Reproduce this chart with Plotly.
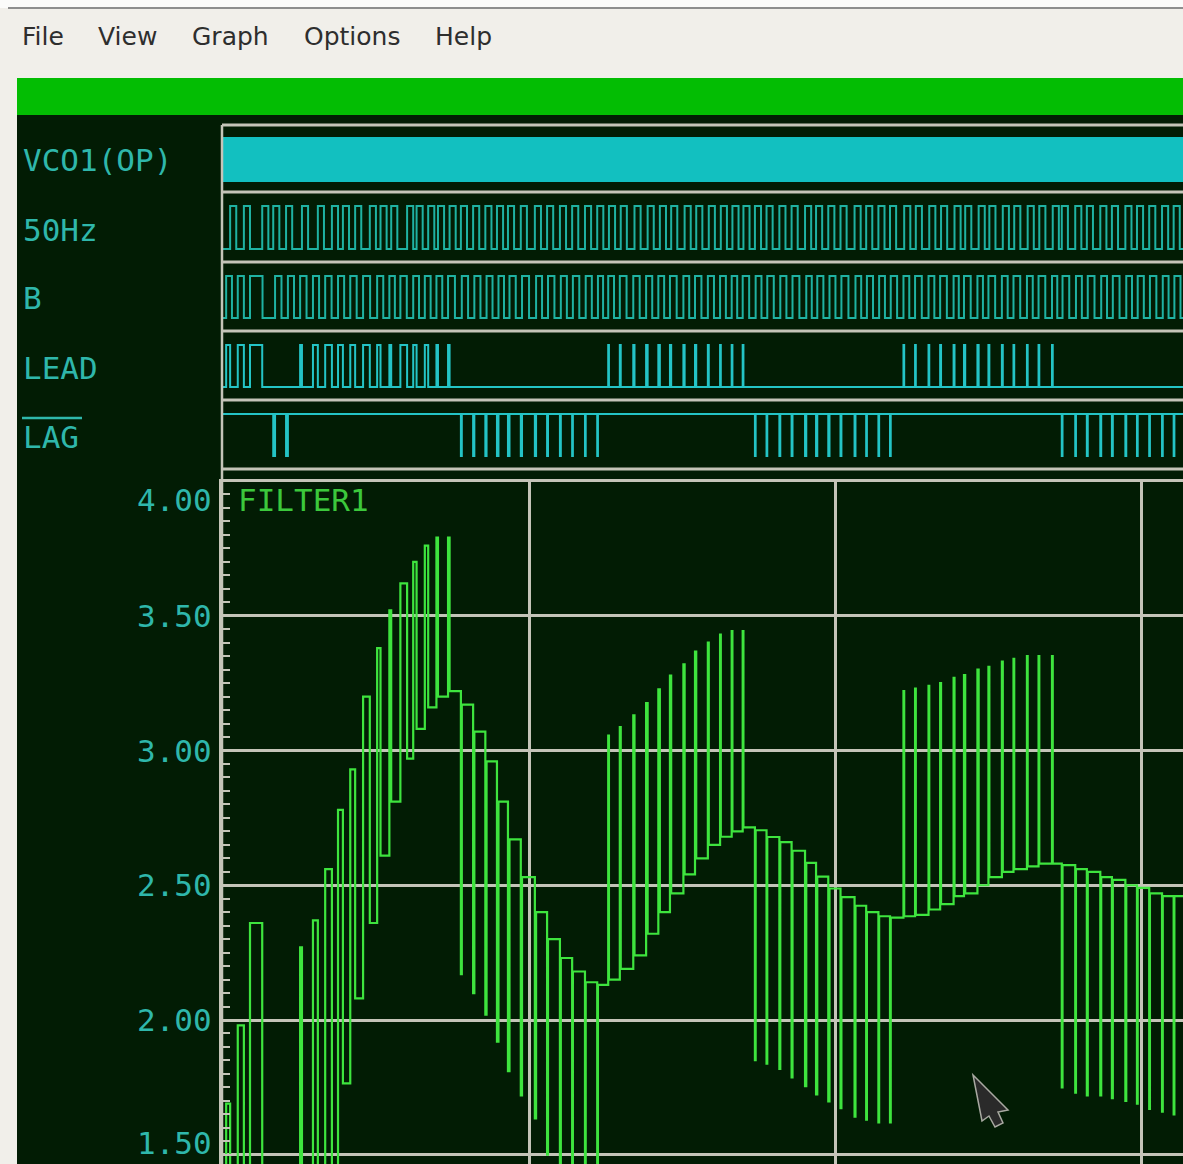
import plotly.graph_objects as go

# ---------------------------------------------------------------- data
MENU_ITEMS = ["File", "View", "Graph", "Options", "Help"]
LANE_LABELS = ["VCO1(OP)", "50Hz", "B", "LEAD", "LAG"]
ANALOG_LABEL = "FILTER1"
Y_TICKS = [4.0, 3.5, 3.0, 2.5, 2.0, 1.5]
Y_TICK_TEXT = ["4.00", "3.50", "3.00", "2.50", "2.00", "1.50"]

# simulated window (ms)
WINDOW_MS = [-4, 1570]
REF_HALF_PERIOD_MS = 10          # 50 Hz reference -> 10 ms high / 10 ms low
FILTER_START_V = 1.20            # loop filter output before the first pulse

# phase-detector pulses: start time, width, side (+1 LEAD / -1 LAG)
EVENT_MS = [
    3, 22, 42, 80, 101,
    124, 145, 165, 186, 206, 227, 250, 270, 288, 309, 328, 347, 366,
    387, 407, 427, 446, 464, 485, 508, 528, 549, 569, 590, 610,
    628, 647, 669, 690, 710, 729, 751, 770, 791, 811, 830, 848,
    868, 887, 908, 928, 950, 968, 988, 1008, 1031, 1050, 1070, 1089,
    1111, 1130, 1152, 1171, 1193, 1210, 1232, 1250, 1272, 1291, 1313, 1332, 1354,
    1370, 1392, 1411, 1433, 1452, 1474, 1493, 1513, 1534, 1553,
]
EVENT_WIDTH_MS = [
    6.5, 10, 20, 3, 3,
    3, 8, 11, 8, 8, 11, 5.5, 3, 11, 5.5, 5.5, 2.5, 2.5,
    1.5, 2, 2, 2.5, 2.5, 2, 2, 1.5, 1.5, 1.2, 1.2, 1.2,
    1.2, 1.5, 2, 2.5, 2.5, 2, 2, 2, 1.5, 1.2, 1.2, 1.2,
    1.2, 1.2, 1.5, 1.5, 2, 2, 2, 1.5, 1.5, 1.2, 1.2, 1.2,
    1.2, 1.2, 1.2, 1.5, 1.5, 2, 2, 1.5, 1.5, 1.2, 1.2, 1.2, 1.2,
    1.2, 1.2, 1.5, 1.5, 1.5, 1.5, 1.2, 1.2, 1.2, 1.2,
]
EVENT_SIDE = [
    1, 1, 1, -1, -1,
    1, 1, 1, 1, 1, 1, 1, 1, 1, 1, 1, 1, 1,
    -1, -1, -1, -1, -1, -1, -1, -1, -1, -1, -1, -1,
    1, 1, 1, 1, 1, 1, 1, 1, 1, 1, 1, 1,
    -1, -1, -1, -1, -1, -1, -1, -1, -1, -1, -1, -1,
    1, 1, 1, 1, 1, 1, 1, 1, 1, 1, 1, 1, 1,
    -1, -1, -1, -1, -1, -1, -1, -1, -1, -1,
]
# FILTER1 value while each pulse is active, and the value held afterwards
FILTER_PEAK_V = [
    1.69, 1.98, 2.36, 0.80, 0.78,
    2.27, 2.37, 2.56, 2.78, 2.93, 3.20, 3.38, 3.52, 3.62, 3.70, 3.76, 3.79, 3.79,
    2.17, 2.10, 2.02, 1.92, 1.81, 1.72, 1.635, 1.50, 1.40, 1.33, 1.28, 1.24,
    3.055, 3.087, 3.13, 3.176, 3.227, 3.278, 3.32, 3.367, 3.40, 3.43, 3.443, 3.443,
    1.851, 1.838, 1.819, 1.787, 1.755, 1.724, 1.698, 1.673, 1.641, 1.63, 1.62, 1.62,
    3.22, 3.23, 3.24, 3.25, 3.27, 3.28, 3.30, 3.31, 3.33, 3.34, 3.35, 3.35, 3.35,
    1.75, 1.73, 1.72, 1.72, 1.71, 1.70, 1.69, 1.67, 1.66, 1.65,
]
FILTER_HOLD_V = [
    1.25, 1.30, 1.34, 1.31, 1.28,
    1.30, 1.36, 1.42, 1.765, 2.08, 2.36, 2.61, 2.81, 2.97, 3.08, 3.16, 3.20, 3.22,
    3.17, 3.07, 2.96, 2.81, 2.67, 2.53, 2.40, 2.30, 2.23, 2.18, 2.14, 2.13,
    2.15, 2.19, 2.24, 2.32, 2.40, 2.47, 2.54, 2.60, 2.65, 2.68, 2.70, 2.715,
    2.704, 2.679, 2.66, 2.628, 2.583, 2.532, 2.488, 2.456, 2.424, 2.40, 2.385, 2.38,
    2.385, 2.39, 2.41, 2.43, 2.46, 2.47, 2.50, 2.53, 2.55, 2.56, 2.57, 2.58, 2.58,
    2.575, 2.56, 2.55, 2.53, 2.52, 2.50, 2.49, 2.47, 2.46, 2.46,
]

# ---------------------------------------------------------------- layout constants
FIG_W, FIG_H = 1183, 1164
PLOT_LEFT_PX = 222
X_RANGE = [-3.8, 1568.3]
Y_RANGE = [1.4657, 4.0074]
ANALOG_TOP_PX = 479
LANE_EDGES_PX = [125, 192, 262, 331, 400, 469]
LANE_PAD_PX = [(12, 10), (14, 13), (14, 13), (14, 13), (14, 13)]
MENU_X_PX = [20, 96, 190, 302, 433]
LABEL_Y_PX = [160, 230, 298, 368, 437]

BG_DARK = "#021c04"
BG_LIGHT = "#f1efea"
FRAME = "#c4c4b8"
TEAL = "#2fb7ab"
CYAN = "#24c4c6"
CLOCK = "#1fb2a2"
GREEN = "#3ee43e"
MONO = "DejaVu Sans Mono"


def px_x(p):
    return p / FIG_W


def px_y(p):
    return 1 - p / FIG_H


def lane_range(top, bot, pad_top, pad_bot):
    h = bot - top
    span = h / (h - pad_top - pad_bot)
    hi = 1 + pad_top / (h - pad_top - pad_bot)
    return [hi - span, hi]


def pulse_points(intervals, idle, active):
    xs, ys = [WINDOW_MS[0]], [idle]
    for s, e in intervals:
        xs += [s, s, e, e]
        ys += [idle, active, active, idle]
    xs.append(WINDOW_MS[1])
    ys.append(idle)
    return xs, ys


# ---------------------------------------------------------------- derived signals
# LEAD: B edge comes first, pulse ends on the reference edge; LAG the reverse.
ref_rise, b_rise, lead_iv, lag_iv = [], [], [], []
for t, w, side in zip(EVENT_MS, EVENT_WIDTH_MS, EVENT_SIDE):
    if side > 0:
        lead_iv.append((t, t + w))
        b_rise.append(t)
        ref_rise.append(t + w)
    else:
        lag_iv.append((t, t + w))
        ref_rise.append(t)
        b_rise.append(t + w)

ref_iv = [(r, r + REF_HALF_PERIOD_MS) for r in ref_rise]
b_iv = []
for i, r in enumerate(b_rise):
    nxt = b_rise[i + 1] if i + 1 < len(b_rise) else r + 2 * REF_HALF_PERIOD_MS
    b_iv.append((r, r + (nxt - r) / 2))

fx, fy = [WINDOW_MS[0]], [FILTER_START_V]
prev = FILTER_START_V
for t, w, pk, hold in zip(EVENT_MS, EVENT_WIDTH_MS, FILTER_PEAK_V, FILTER_HOLD_V):
    fx += [t, t, t + w, t + w]
    fy += [prev, pk, pk, hold]
    prev = hold
fx.append(WINDOW_MS[1])
fy.append(prev)

# ---------------------------------------------------------------- figure
fig = go.Figure()

fig.add_trace(go.Scatter(x=WINDOW_MS, y=[1, 1], xaxis="x2", yaxis="y2", mode="lines",
                         line=dict(width=0, color=CYAN), fill="tozeroy",
                         fillcolor="#12c0c0", hoverinfo="skip"))
for iv, ax, idle, act, col in [(ref_iv, "y3", 0, 1, CLOCK), (b_iv, "y4", 0, 1, CLOCK),
                               (lead_iv, "y5", 0, 1, CYAN), (lag_iv, "y6", 1, 0, CYAN)]:
    xs, ys = pulse_points(iv, idle, act)
    fig.add_trace(go.Scatter(x=xs, y=ys, xaxis="x2", yaxis=ax, mode="lines",
                             line=dict(width=2, color=col), hoverinfo="skip"))

fig.add_trace(go.Scatter(x=fx, y=fy, xaxis="x", yaxis="y", mode="lines",
                         line=dict(width=2.2, color=GREEN), hoverinfo="skip"))

layout = dict(
    width=FIG_W, height=FIG_H, margin=dict(l=0, r=0, t=0, b=0),
    paper_bgcolor=BG_LIGHT, plot_bgcolor=BG_DARK, showlegend=False,
    xaxis=dict(domain=[px_x(PLOT_LEFT_PX), 1], range=X_RANGE, anchor="y",
               tickmode="array", tickvals=[500, 1000, 1500], showticklabels=False,
               ticks="", showgrid=True, gridcolor=FRAME, gridwidth=2.5,
               zeroline=False, showline=False, fixedrange=True),
    xaxis2=dict(domain=[px_x(PLOT_LEFT_PX), 1], range=X_RANGE, anchor="y2",
                visible=False, fixedrange=True),
    yaxis=dict(domain=[0, px_y(ANALOG_TOP_PX)], range=Y_RANGE, anchor="x",
               tick0=1.5, dtick=0.5, showticklabels=False, ticks="inside",
               ticklen=10, tickwidth=2, tickcolor=FRAME,
               showgrid=True, gridcolor=FRAME, gridwidth=2.5, zeroline=False,
               showline=True, linecolor=FRAME, linewidth=2.5,
               minor=dict(dtick=0.05, tick0=1.5, ticks="inside", ticklen=8,
                          tickwidth=2, tickcolor=FRAME, showgrid=False),
               fixedrange=True),
)
for i in range(5):
    top, bot = LANE_EDGES_PX[i], LANE_EDGES_PX[i + 1]
    pt, pb = LANE_PAD_PX[i]
    layout["yaxis%d" % (i + 2)] = dict(domain=[px_y(bot), px_y(top)],
                                        range=lane_range(top, bot, pt, pb),
                                        anchor="x2", visible=False, fixedrange=True)
fig.update_layout(**layout)

shapes = []
# window chrome
shapes.append(dict(type="rect", xref="paper", yref="paper", x0=0, x1=1,
                   y0=px_y(8), y1=1, fillcolor="#fbfbfa", line_width=0, layer="below"))
shapes.append(dict(type="line", xref="paper", yref="paper", x0=px_x(8), x1=1,
                   y0=px_y(8), y1=px_y(8), line=dict(color="#8e8e8e", width=2)))
shapes.append(dict(type="rect", xref="paper", yref="paper", x0=px_x(17), x1=1,
                   y0=px_y(115), y1=px_y(78), fillcolor="#03bd03", line_width=0,
                   layer="below"))
shapes.append(dict(type="rect", xref="paper", yref="paper", x0=px_x(17), x1=1,
                   y0=0, y1=px_y(115), fillcolor=BG_DARK, line_width=0, layer="below"))
# lane separators and left frame
for yp in LANE_EDGES_PX:
    shapes.append(dict(type="line", xref="paper", yref="paper",
                       x0=px_x(PLOT_LEFT_PX), x1=1, y0=px_y(yp), y1=px_y(yp),
                       line=dict(color=FRAME, width=3)))
shapes.append(dict(type="line", xref="paper", yref="paper",
                   x0=px_x(PLOT_LEFT_PX), x1=px_x(PLOT_LEFT_PX),
                   y0=0, y1=px_y(LANE_EDGES_PX[0]),
                   line=dict(color=FRAME, width=2.5)))
# active-low bar over LAG
shapes.append(dict(type="line", xref="paper", yref="paper", x0=px_x(22), x1=px_x(82),
                   y0=px_y(418), y1=px_y(418), line=dict(color=TEAL, width=2.5)))
# mouse pointer
ptr = [(973, 1075), (1008, 1110), (998, 1112), (1003, 1123), (995, 1127),
       (989, 1116), (982, 1121)]
path = "M " + " L ".join("%.5f %.5f" % (px_x(a), px_y(b)) for a, b in ptr) + " Z"
shapes.append(dict(type="path", xref="paper", yref="paper", path=path,
                   fillcolor="#2a2a2a", line=dict(color="#a9a9a2", width=1.5)))
fig.update_layout(shapes=shapes)

ann = []
for name, xp in zip(MENU_ITEMS, MENU_X_PX):
    ann.append(dict(text=name, xref="paper", yref="paper", x=px_x(xp), y=px_y(36),
                    xanchor="left", yanchor="middle", showarrow=False,
                    font=dict(family="DejaVu Sans", size=25, color="#2e2e2e")))
for name, yp in zip(LANE_LABELS, LABEL_Y_PX):
    ann.append(dict(text=name, xref="paper", yref="paper", x=px_x(21), y=px_y(yp),
                    xanchor="left", yanchor="middle", showarrow=False,
                    font=dict(family=MONO, size=31, color=TEAL)))
# value labels; the outermost ones are nudged inward so they stay on the page
for v, txt in zip(Y_TICKS, Y_TICK_TEXT):
    shift = -19 if v == max(Y_TICKS) else (12 if v == min(Y_TICKS) else 0)
    ann.append(dict(text=txt, xref="paper", yref="y", x=px_x(214), y=v,
                    xanchor="right", yanchor="middle", showarrow=False,
                    yshift=shift, font=dict(family=MONO, size=31, color=TEAL)))
ann.append(dict(text=ANALOG_LABEL, xref="paper", yref="paper", x=px_x(236),
                y=px_y(500), xanchor="left", yanchor="middle", showarrow=False,
                font=dict(family=MONO, size=31, color="#3cc83c")))
fig.update_layout(annotations=ann)

fig.write_html("out.html")
